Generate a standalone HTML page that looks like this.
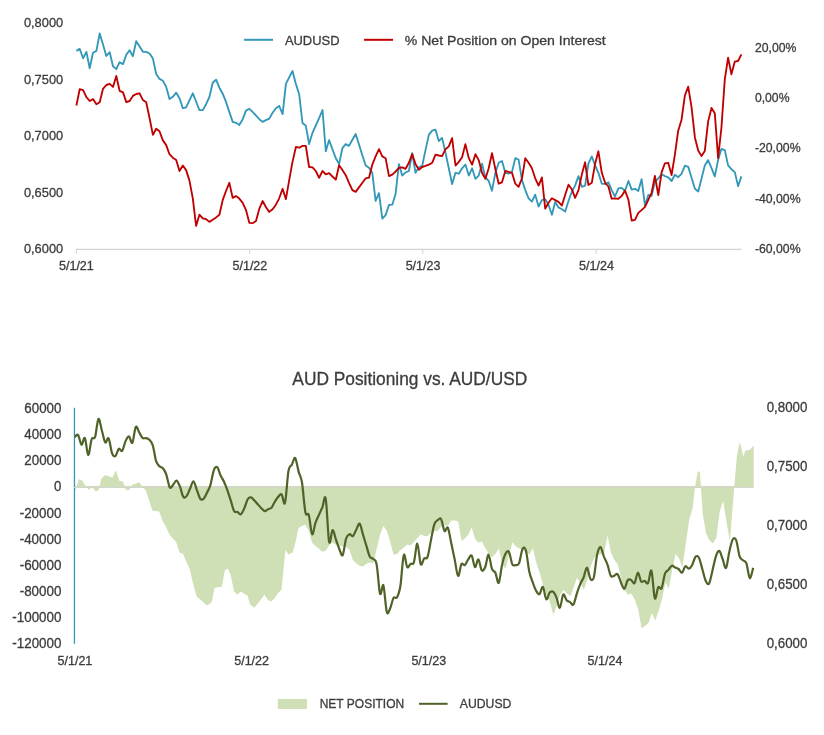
<!DOCTYPE html><html><head><meta charset="utf-8"><title>AUD Positioning</title>
<style>html,body{margin:0;padding:0;background:#fff}svg{display:block;will-change:transform}text{font-family:"Liberation Sans",sans-serif;fill:#3c3c3c;stroke:#3c3c3c;stroke-width:0.3px}</style></head><body>
<svg width="824" height="735" viewBox="0 0 824 735">
<rect width="824" height="735" fill="#fff"/>
<path d="M76.4,253.6 V249.4 H741.6" fill="none" stroke="#d3d3d3" stroke-width="1.1"/>
<path d="M249.6,249.4 V253.6" stroke="#d3d3d3" stroke-width="1.1" fill="none"/>
<path d="M422.8,249.4 V253.6" stroke="#d3d3d3" stroke-width="1.1" fill="none"/>
<path d="M596.2,249.4 V253.6" stroke="#d3d3d3" stroke-width="1.1" fill="none"/>
<path d="M76.4,50.9 L79.7,48.9 L83.1,58.2 L86.4,51.9 L89.7,68.2 L93.0,52.8 L96.4,50.9 L99.7,33.5 L103.0,44.4 L106.3,56.0 L109.7,52.2 L113.0,66.3 L116.3,69.1 L119.6,62.2 L123.0,64.1 L126.3,54.7 L129.6,50.2 L132.9,56.3 L136.2,41.2 L139.6,46.4 L142.9,51.8 L146.2,51.9 L149.6,53.5 L152.9,58.6 L156.2,74.0 L159.5,78.9 L162.9,80.8 L166.2,86.9 L169.5,99.1 L172.8,96.8 L176.2,92.7 L179.5,98.2 L182.8,108.2 L186.1,107.3 L189.4,100.4 L192.8,93.3 L196.1,101.5 L199.4,110.1 L202.8,110.1 L206.1,104.2 L209.4,97.0 L212.7,82.8 L216.1,79.7 L219.4,87.7 L222.7,93.7 L226.0,101.9 L229.3,111.9 L232.7,121.9 L236.0,122.8 L239.3,125.0 L242.7,119.2 L246.0,110.6 L249.3,108.8 L252.6,111.9 L256.0,115.5 L259.3,119.2 L262.6,121.9 L265.9,120.1 L269.2,118.6 L272.6,112.8 L275.9,108.2 L279.2,105.9 L282.6,114.1 L285.9,83.8 L289.2,77.4 L292.5,71.0 L295.9,84.0 L299.2,94.5 L302.5,123.0 L305.8,125.7 L309.1,144.1 L312.5,132.8 L315.8,125.5 L319.1,118.2 L322.5,110.0 L325.8,151.3 L329.1,140.1 L332.4,149.2 L335.8,158.2 L339.1,164.1 L342.4,148.2 L345.7,144.1 L349.0,145.9 L352.4,139.7 L355.7,134.0 L359.0,144.6 L362.4,155.5 L365.7,165.5 L369.0,167.7 L372.3,172.8 L375.6,201.0 L379.0,193.2 L382.3,218.7 L385.6,215.1 L389.0,205.0 L392.3,204.7 L395.6,193.8 L398.9,164.1 L402.2,175.6 L405.6,172.4 L408.9,171.0 L412.2,153.2 L415.5,172.8 L418.9,167.3 L422.2,165.9 L425.5,150.1 L428.9,134.6 L432.2,130.6 L435.5,129.7 L438.8,141.0 L442.1,137.9 L445.5,152.8 L448.8,168.3 L452.1,184.1 L455.5,172.8 L458.8,173.7 L462.1,168.3 L465.4,164.6 L468.8,175.6 L472.1,168.3 L475.4,178.8 L478.7,175.6 L482.0,163.7 L485.4,177.4 L488.7,181.0 L492.0,190.7 L495.4,172.8 L498.7,162.8 L502.0,161.0 L505.3,172.8 L508.6,173.7 L512.0,171.9 L515.3,158.2 L518.6,159.7 L522.0,180.1 L525.3,190.1 L528.6,198.3 L531.9,201.6 L535.2,194.7 L538.6,206.5 L541.9,200.1 L545.2,199.2 L548.5,204.7 L551.9,214.7 L555.2,201.9 L558.5,207.4 L561.9,209.2 L565.2,211.6 L568.5,201.0 L571.8,191.9 L575.1,185.6 L578.5,176.1 L581.8,186.8 L585.1,185.6 L588.4,163.7 L591.8,156.4 L595.1,165.5 L598.4,172.8 L601.8,183.7 L605.1,184.1 L608.4,182.3 L611.7,190.1 L615.0,196.5 L618.4,188.3 L621.7,187.9 L625.0,191.0 L628.4,181.0 L631.7,189.6 L635.0,188.8 L638.3,191.0 L641.6,179.2 L645.0,205.6 L648.3,195.0 L651.6,195.9 L654.9,181.9 L658.3,178.3 L661.6,174.3 L664.9,176.1 L668.2,177.4 L671.6,181.0 L674.9,174.8 L678.2,177.2 L681.5,173.8 L684.9,165.7 L688.2,166.8 L691.5,177.4 L694.9,188.8 L698.2,191.4 L701.5,178.8 L704.8,165.4 L708.1,160.1 L711.5,168.1 L714.8,176.4 L718.1,160.1 L721.4,149.0 L724.8,150.1 L728.1,165.4 L731.4,169.2 L734.8,172.1 L738.1,186.1 L741.4,176.4" fill="none" stroke="#3398b8" stroke-width="1.85" stroke-linejoin="round" stroke-linecap="butt"/>
<path d="M76.4,105.5 L79.7,89.2 L83.1,90.1 L86.4,97.2 L89.7,101.0 L93.0,99.1 L96.4,104.3 L99.7,102.3 L103.0,88.8 L106.3,85.0 L109.7,83.9 L113.0,86.9 L116.3,76.0 L119.6,90.8 L123.0,92.4 L126.3,102.1 L129.6,101.0 L132.9,95.9 L136.2,94.0 L139.6,93.3 L142.9,100.1 L146.2,102.3 L149.6,118.2 L152.9,134.9 L156.2,128.7 L159.5,131.3 L162.9,140.4 L166.2,145.1 L169.5,154.2 L172.8,157.7 L176.2,160.1 L179.5,171.0 L182.8,165.5 L186.1,170.1 L189.4,180.4 L192.8,198.3 L196.1,225.9 L199.4,214.7 L202.8,218.3 L206.1,219.2 L209.4,221.9 L212.7,219.8 L216.1,217.4 L219.4,214.7 L222.7,200.1 L226.0,191.0 L229.3,182.8 L232.7,197.9 L236.0,196.1 L239.3,198.6 L242.7,202.8 L246.0,210.1 L249.3,222.8 L252.6,223.2 L256.0,221.0 L259.3,208.8 L262.6,201.0 L265.9,207.0 L269.2,211.9 L272.6,209.2 L275.9,204.7 L279.2,198.3 L282.6,188.8 L285.9,199.2 L289.2,180.1 L292.5,161.9 L295.9,147.0 L299.2,147.7 L302.5,145.9 L305.8,145.9 L309.1,167.0 L312.5,167.3 L315.8,171.0 L319.1,177.9 L322.5,171.0 L325.8,174.3 L329.1,173.2 L332.4,176.5 L335.8,179.7 L339.1,165.2 L342.4,170.1 L345.7,175.2 L349.0,182.8 L352.4,190.1 L355.7,191.9 L359.0,187.4 L362.4,182.8 L365.7,178.3 L369.0,177.7 L372.3,164.6 L375.6,156.4 L379.0,149.2 L382.3,156.4 L385.6,158.2 L389.0,176.1 L392.3,174.6 L395.6,171.5 L398.9,167.9 L402.2,167.3 L405.6,168.8 L408.9,162.8 L412.2,154.1 L415.5,164.1 L418.9,169.7 L422.2,167.0 L425.5,165.9 L428.9,164.6 L432.2,162.8 L435.5,154.6 L438.8,155.5 L442.1,156.1 L445.5,149.2 L448.8,146.4 L452.1,138.2 L455.5,165.5 L458.8,161.9 L462.1,157.3 L465.4,144.1 L468.8,158.2 L472.1,164.6 L475.4,154.2 L478.7,160.1 L482.0,172.8 L485.4,178.8 L488.7,168.3 L492.0,153.2 L495.4,169.2 L498.7,183.7 L502.0,182.3 L505.3,171.0 L508.6,171.9 L512.0,172.8 L515.3,183.7 L518.6,186.8 L522.0,178.3 L525.3,158.2 L528.6,162.8 L531.9,168.3 L535.2,178.3 L538.6,185.6 L541.9,177.4 L545.2,208.7 L548.5,202.8 L551.9,198.3 L555.2,200.1 L558.5,201.9 L561.9,205.6 L565.2,194.7 L568.5,184.7 L571.8,189.2 L575.1,197.9 L578.5,190.1 L581.8,174.6 L585.1,162.3 L588.4,185.0 L591.8,182.8 L595.1,163.7 L598.4,151.3 L601.8,172.8 L605.1,182.8 L608.4,186.5 L611.7,198.7 L615.0,198.3 L618.4,198.8 L621.7,195.9 L625.0,190.5 L628.4,199.6 L631.7,220.7 L635.0,219.8 L638.3,212.9 L641.6,210.1 L645.0,206.9 L648.3,199.8 L651.6,192.8 L654.9,175.9 L658.3,195.0 L661.6,172.4 L664.9,163.3 L668.2,162.8 L671.6,175.0 L674.9,154.6 L678.2,130.7 L681.5,120.0 L684.9,95.4 L688.2,86.7 L691.5,106.8 L694.9,137.4 L698.2,150.5 L701.5,156.1 L704.8,151.0 L708.1,121.6 L711.5,108.0 L714.8,113.3 L718.1,158.1 L721.4,128.0 L724.8,79.4 L728.1,57.6 L731.4,74.3 L734.8,61.6 L738.1,61.0 L741.4,54.4" fill="none" stroke="#c00000" stroke-width="1.85" stroke-linejoin="round" stroke-linecap="butt"/>
<text x="23.9" y="27.1" font-size="13.2" text-anchor="start" textLength="39.3" lengthAdjust="spacingAndGlyphs">0,8000</text>
<text x="23.9" y="83.65" font-size="13.2" text-anchor="start" textLength="39.3" lengthAdjust="spacingAndGlyphs">0,7500</text>
<text x="23.9" y="140.2" font-size="13.2" text-anchor="start" textLength="39.3" lengthAdjust="spacingAndGlyphs">0,7000</text>
<text x="23.9" y="196.74999999999997" font-size="13.2" text-anchor="start" textLength="39.3" lengthAdjust="spacingAndGlyphs">0,6500</text>
<text x="23.9" y="253.29999999999998" font-size="13.2" text-anchor="start" textLength="39.3" lengthAdjust="spacingAndGlyphs">0,6000</text>
<text x="754.9" y="51.8" font-size="12.8" text-anchor="start" textLength="41.5" lengthAdjust="spacingAndGlyphs">20,00%</text>
<text x="754.9" y="102.1" font-size="12.8" text-anchor="start" textLength="34.6" lengthAdjust="spacingAndGlyphs">0,00%</text>
<text x="754.9" y="152.39999999999998" font-size="12.8" text-anchor="start" textLength="45.7" lengthAdjust="spacingAndGlyphs">-20,00%</text>
<text x="754.9" y="202.7" font-size="12.8" text-anchor="start" textLength="45.7" lengthAdjust="spacingAndGlyphs">-40,00%</text>
<text x="754.9" y="253.0" font-size="12.8" text-anchor="start" textLength="45.7" lengthAdjust="spacingAndGlyphs">-60,00%</text>
<text x="76.4" y="269.9" font-size="12.2" text-anchor="middle" textLength="34.9" lengthAdjust="spacingAndGlyphs">5/1/21</text>
<text x="249.9" y="269.9" font-size="12.2" text-anchor="middle" textLength="34.9" lengthAdjust="spacingAndGlyphs">5/1/22</text>
<text x="423.1" y="269.9" font-size="12.2" text-anchor="middle" textLength="34.9" lengthAdjust="spacingAndGlyphs">5/1/23</text>
<text x="596.5" y="269.9" font-size="12.2" text-anchor="middle" textLength="34.9" lengthAdjust="spacingAndGlyphs">5/1/24</text>
<path d="M244.1,39.8 H273" stroke="#3398b8" stroke-width="2" fill="none"/>
<text x="284.9" y="44.8" font-size="13.3" text-anchor="start" textLength="54.6" lengthAdjust="spacingAndGlyphs">AUDUSD</text>
<path d="M364.1,39.8 H393" stroke="#c00000" stroke-width="2" fill="none"/>
<text x="404.8" y="44.8" font-size="13.3" text-anchor="start" textLength="200.9" lengthAdjust="spacingAndGlyphs">% Net Position on Open Interest</text>
<text x="409.8" y="384.8" font-size="17.6" text-anchor="middle" textLength="234.9" lengthAdjust="spacingAndGlyphs">AUD Positioning vs. AUD/USD</text>
<path d="M74.3,486.0 L74.4,493.1 L78.9,479.3 L82.1,480.4 L85.5,485.8 L88.9,490.0 L92.1,486.5 L95.7,491.6 L98.9,489.7 L101.3,478.5 L105.4,475.1 L108.8,476.4 L112.5,477.5 L115.8,470.3 L119.5,480.9 L122.9,481.4 L125.8,489.7 L128.7,490.2 L132.6,484.5 L136.0,483.4 L139.4,482.2 L142.6,487.2 L145.7,490.2 L149.1,500.3 L152.4,510.7 L155.8,511.0 L159.2,511.4 L162.6,521.1 L166.0,526.8 L169.4,534.5 L172.8,538.4 L176.2,541.9 L179.6,552.8 L183.0,553.7 L186.4,561.9 L189.8,569.2 L193.2,584.1 L196.6,596.5 L200.0,599.2 L203.4,602.3 L206.8,605.6 L211.6,602.5 L214.7,587.8 L218.0,587.3 L221.8,586.7 L225.0,570.0 L228.0,568.7 L230.6,574.7 L234.0,591.4 L237.4,594.7 L240.8,591.4 L244.2,593.8 L247.5,595.4 L250.1,604.5 L254.3,607.8 L257.7,603.8 L261.1,599.2 L264.5,594.7 L267.9,600.1 L271.3,601.6 L274.7,598.3 L278.1,592.9 L281.5,589.8 L285.4,550.0 L288.5,554.4 L292.5,552.7 L295.1,544.1 L298.5,528.0 L301.9,526.0 L305.3,524.7 L308.7,530.7 L312.1,542.7 L315.5,546.1 L318.9,548.7 L322.3,551.7 L325.7,550.7 L329.1,545.4 L332.5,542.5 L335.9,544.7 L339.3,546.0 L342.7,546.5 L346.1,546.7 L349.5,550.1 L352.9,560.1 L356.3,563.4 L359.6,565.7 L363.0,566.4 L366.4,563.7 L369.8,562.5 L373.2,563.4 L376.6,549.4 L380.0,534.7 L383.4,526.0 L386.8,530.4 L390.2,542.1 L393.6,554.7 L397.0,554.0 L400.4,550.1 L403.8,547.4 L407.2,544.6 L410.6,545.5 L414.0,541.9 L417.4,538.3 L420.8,534.2 L424.2,535.9 L427.6,535.9 L431.0,532.8 L434.4,531.3 L437.8,530.9 L441.2,526.4 L444.6,525.5 L448.0,525.5 L451.4,520.6 L454.8,520.4 L458.2,521.5 L461.6,541.0 L465.0,538.2 L468.4,534.6 L471.7,527.3 L475.1,539.1 L478.5,542.8 L481.9,541.5 L485.3,548.2 L488.7,553.2 L492.1,557.3 L495.5,553.7 L498.9,548.6 L502.3,564.6 L505.7,568.8 L509.1,553.7 L512.5,542.2 L515.9,546.8 L519.3,548.2 L522.7,550.0 L526.1,552.8 L529.5,554.6 L532.9,548.2 L536.3,562.8 L539.7,572.8 L543.1,585.6 L546.5,594.7 L549.9,601.9 L553.3,615.1 L556.7,605.6 L560.1,594.7 L563.5,590.1 L566.9,593.2 L570.3,596.5 L573.7,587.4 L577.1,577.4 L580.5,583.7 L583.9,589.6 L587.2,580.1 L590.6,566.4 L594.0,558.3 L597.4,554.6 L600.8,554.6 L604.2,552.8 L607.6,535.5 L611.0,552.8 L614.4,560.1 L617.8,564.6 L621.2,578.3 L624.6,590.1 L628.0,594.7 L631.4,593.8 L634.8,599.8 L638.2,609.2 L641.6,628.3 L645.0,626.0 L648.4,622.9 L651.8,612.9 L655.2,620.5 L658.6,611.0 L662.0,599.2 L665.4,582.8 L668.8,588.7 L672.2,570.1 L675.6,553.7 L679.0,558.3 L682.4,567.4 L685.8,543.7 L689.2,519.4 L692.6,508.2 L695.1,486.7 L697.9,471.4 L699.9,471.7 L702.7,514.0 L706.1,533.5 L709.5,540.3 L712.9,543.5 L716.3,538.0 L719.7,511.4 L723.1,500.8 L726.5,522.0 L729.9,541.0 L733.3,498.5 L736.9,456.0 L739.7,442.0 L743.5,456.7 L745.2,450.7 L749.7,450.0 L753.7,445.4 L753.7,486.0 Z" fill="#cfdfb6" stroke="none"/>
<rect x="74.3" y="485.95" width="679.4" height="1.1" fill="#cfdfb6"/>
<path d="M74.45,407.8 V643.8" stroke="#3398b8" stroke-width="1.3" fill="none"/>
<path d="M73.8,487.5 H753.7" stroke="#d4d4d0" stroke-width="1.2" fill="none"/>
<path d="M74.7,437.0 C75.3,436.7 77.0,433.8 78.1,435.0 C79.2,436.3 80.4,444.2 81.5,444.7 C82.6,445.2 83.7,436.4 84.9,438.1 C86.0,439.9 87.1,455.0 88.3,455.1 C89.4,455.3 90.5,442.1 91.7,439.1 C92.8,436.0 93.9,440.4 95.1,437.0 C96.2,433.7 97.3,420.1 98.4,418.9 C99.6,417.8 100.7,426.4 101.8,430.3 C103.0,434.2 104.1,441.1 105.2,442.4 C106.4,443.8 107.5,436.6 108.6,438.4 C109.8,440.2 110.9,450.2 112.0,453.1 C113.1,456.1 114.3,456.8 115.4,456.1 C116.5,455.4 117.7,449.7 118.8,448.8 C119.9,448.0 121.1,452.2 122.2,450.9 C123.3,449.6 124.5,443.5 125.6,441.1 C126.7,438.7 127.8,436.1 129.0,436.4 C130.1,436.6 131.2,444.2 132.4,442.7 C133.5,441.1 134.6,428.7 135.8,427.0 C136.9,425.3 138.0,430.5 139.2,432.4 C140.3,434.2 141.4,437.0 142.6,438.0 C143.7,438.9 144.8,437.8 145.9,438.1 C147.1,438.4 148.2,438.6 149.3,439.7 C150.5,440.9 151.6,441.5 152.7,445.1 C153.9,448.7 155.0,457.7 156.1,461.2 C157.3,464.7 158.4,465.1 159.5,466.3 C160.6,467.5 161.8,466.9 162.9,468.3 C164.0,469.7 165.2,471.4 166.3,474.6 C167.4,477.8 168.6,485.6 169.7,487.3 C170.8,489.1 172.0,486.0 173.1,484.9 C174.2,483.8 175.3,480.4 176.5,480.6 C177.6,480.9 178.7,483.7 179.9,486.4 C181.0,489.1 182.1,495.3 183.3,496.8 C184.4,498.4 185.5,497.3 186.7,495.9 C187.8,494.5 188.9,491.1 190.0,488.7 C191.2,486.3 192.3,481.1 193.4,481.3 C194.6,481.5 195.7,486.9 196.8,489.8 C198.0,492.7 199.1,497.3 200.2,498.7 C201.4,500.2 202.5,499.8 203.6,498.7 C204.7,497.7 205.9,495.0 207.0,492.7 C208.1,490.4 209.3,488.8 210.4,485.1 C211.5,481.3 212.7,473.3 213.8,470.3 C214.9,467.3 216.1,466.2 217.2,467.1 C218.3,467.9 219.4,473.0 220.6,475.4 C221.7,477.8 222.8,479.2 224.0,481.7 C225.1,484.1 226.2,487.0 227.4,490.2 C228.5,493.4 229.6,497.2 230.8,500.6 C231.9,504.1 233.0,509.2 234.1,511.1 C235.3,513.0 236.4,511.5 237.5,512.0 C238.7,512.6 239.8,514.9 240.9,514.3 C242.1,513.7 243.2,510.7 244.3,508.2 C245.5,505.7 246.6,501.1 247.7,499.3 C248.8,497.5 250.0,497.2 251.1,497.4 C252.2,497.6 253.4,499.5 254.5,500.6 C255.6,501.8 256.8,503.2 257.9,504.4 C259.0,505.7 260.2,507.1 261.3,508.2 C262.4,509.3 263.5,510.9 264.7,511.1 C265.8,511.2 266.9,509.8 268.1,509.2 C269.2,508.6 270.3,508.9 271.5,507.7 C272.6,506.4 273.7,503.4 274.9,501.6 C276.0,499.8 277.1,498.1 278.2,496.8 C279.4,495.6 280.5,493.4 281.6,494.4 C282.8,495.4 283.9,506.8 285.0,502.9 C286.2,499.1 287.3,477.7 288.4,471.4 C289.6,465.0 290.7,466.9 291.8,464.7 C293.0,462.5 294.1,456.8 295.2,458.0 C296.3,459.2 297.5,467.5 298.6,471.6 C299.7,475.7 300.9,475.7 302.0,482.5 C303.1,489.3 304.3,506.8 305.4,512.3 C306.5,517.7 307.7,511.4 308.8,515.1 C309.9,518.7 311.0,533.0 312.2,534.2 C313.3,535.4 314.4,525.6 315.6,522.4 C316.7,519.2 317.8,517.4 319.0,514.8 C320.1,512.3 321.2,509.9 322.4,507.2 C323.5,504.5 324.6,492.9 325.7,498.7 C326.9,504.5 328.0,536.6 329.1,541.8 C330.3,547.0 331.4,530.4 332.5,530.0 C333.7,529.6 334.8,536.3 335.9,539.5 C337.1,542.7 338.2,546.4 339.3,549.0 C340.4,551.6 341.6,556.8 342.7,555.1 C343.8,553.3 345.0,542.0 346.1,538.5 C347.2,535.1 348.4,534.6 349.5,534.2 C350.6,533.8 351.8,536.8 352.9,536.1 C354.0,535.3 355.1,531.7 356.3,529.6 C357.4,527.6 358.5,522.9 359.7,523.7 C360.8,524.6 361.9,531.0 363.1,534.8 C364.2,538.5 365.3,542.5 366.5,546.1 C367.6,549.8 368.7,554.5 369.8,556.6 C371.0,558.7 372.1,557.6 373.2,558.9 C374.4,560.1 375.5,558.4 376.6,564.2 C377.8,570.0 378.9,590.0 380.0,593.6 C381.2,597.1 382.3,582.4 383.4,585.4 C384.5,588.5 385.7,608.2 386.8,612.0 C387.9,615.8 389.1,610.6 390.2,608.2 C391.3,605.8 392.5,599.6 393.6,597.8 C394.7,596.0 395.9,599.3 397.0,597.4 C398.1,595.4 399.2,593.0 400.4,586.0 C401.5,578.9 402.6,558.2 403.8,555.1 C404.9,551.9 406.0,565.6 407.2,567.0 C408.3,568.5 409.4,564.6 410.6,563.8 C411.7,563.0 412.8,565.6 413.9,562.3 C415.1,558.9 416.2,543.4 417.3,543.7 C418.5,544.0 419.6,561.7 420.7,564.2 C421.9,566.6 423.0,559.7 424.1,558.5 C425.3,557.3 426.4,560.0 427.5,557.0 C428.7,554.0 429.8,545.9 430.9,540.4 C432.0,535.0 433.2,527.7 434.3,524.3 C435.4,520.9 436.6,521.0 437.7,520.1 C438.8,519.3 440.0,517.4 441.1,519.2 C442.2,521.0 443.4,529.5 444.5,531.0 C445.6,532.4 446.7,525.7 447.9,527.7 C449.0,529.8 450.1,538.0 451.3,543.3 C452.4,548.6 453.5,554.0 454.7,559.4 C455.8,564.9 456.9,575.1 458.1,575.9 C459.2,576.7 460.3,566.0 461.4,564.2 C462.6,562.4 463.7,565.9 464.8,565.1 C466.0,564.3 467.1,561.0 468.2,559.4 C469.4,557.8 470.5,554.4 471.6,555.6 C472.8,556.9 473.9,566.4 475.0,567.0 C476.1,567.7 477.3,558.9 478.4,559.4 C479.5,560.0 480.7,569.2 481.8,570.4 C482.9,571.7 484.1,569.6 485.2,567.0 C486.3,564.4 487.5,554.4 488.6,554.7 C489.7,555.0 490.8,565.9 492.0,568.9 C493.1,571.9 494.2,570.4 495.4,572.7 C496.5,575.0 497.6,584.2 498.8,582.8 C499.9,581.3 501.0,569.0 502.2,564.2 C503.3,559.3 504.4,555.8 505.5,553.7 C506.7,551.7 507.8,550.1 508.9,551.8 C510.1,553.6 511.2,562.0 512.3,564.2 C513.5,566.4 514.6,565.3 515.7,565.1 C516.9,565.0 518.0,565.9 519.1,563.2 C520.2,560.5 521.4,551.1 522.5,549.0 C523.6,546.9 524.8,546.7 525.9,550.5 C527.0,554.3 528.2,566.5 529.3,571.8 C530.4,577.0 531.6,579.0 532.7,582.2 C533.8,585.4 534.9,588.7 536.1,590.7 C537.2,592.7 538.3,594.8 539.5,594.2 C540.6,593.5 541.7,586.1 542.9,586.9 C544.0,587.8 545.1,598.3 546.3,599.3 C547.4,600.2 548.5,593.9 549.6,592.6 C550.8,591.4 551.9,590.9 553.0,591.7 C554.2,592.5 555.3,594.7 556.4,597.4 C557.6,600.1 558.7,608.3 559.8,607.8 C561.0,607.3 562.1,595.8 563.2,594.5 C564.4,593.3 565.5,599.0 566.6,600.2 C567.7,601.5 568.9,601.4 570.0,602.1 C571.1,602.8 572.3,606.0 573.4,604.6 C574.5,603.2 575.7,597.0 576.8,593.6 C577.9,590.2 579.1,586.8 580.2,584.1 C581.3,581.4 582.4,580.2 583.6,577.5 C584.7,574.7 585.8,567.4 587.0,567.6 C588.1,567.8 589.2,577.1 590.4,578.8 C591.5,580.4 592.6,581.5 593.8,577.5 C594.9,573.4 596.0,559.7 597.1,554.7 C598.3,549.6 599.4,546.8 600.5,547.1 C601.7,547.4 602.8,553.7 603.9,556.6 C605.1,559.4 606.2,561.0 607.3,564.2 C608.5,567.3 609.6,573.6 610.7,575.6 C611.8,577.5 613.0,576.2 614.1,575.9 C615.2,575.7 616.4,573.0 617.5,574.0 C618.6,575.1 619.8,579.7 620.9,582.2 C622.0,584.7 623.2,589.2 624.3,588.8 C625.4,588.5 626.5,581.8 627.7,580.3 C628.8,578.8 629.9,579.4 631.1,579.9 C632.2,580.4 633.3,584.3 634.5,583.1 C635.6,581.9 636.7,573.0 637.9,572.7 C639.0,572.5 640.1,580.3 641.2,581.6 C642.4,583.0 643.5,580.6 644.6,580.9 C645.8,581.1 646.9,584.8 648.0,583.1 C649.2,581.5 650.3,568.3 651.4,570.8 C652.6,573.3 653.7,595.6 654.8,598.3 C655.9,601.1 657.1,589.0 658.2,587.3 C659.3,585.6 660.5,590.5 661.6,588.3 C662.7,586.0 663.9,576.7 665.0,573.7 C666.1,570.6 667.3,571.2 668.4,569.9 C669.5,568.5 670.6,566.1 671.8,565.7 C672.9,565.3 674.0,567.0 675.2,567.6 C676.3,568.1 677.4,568.1 678.6,569.0 C679.7,569.8 680.8,573.2 682.0,572.7 C683.1,572.3 684.2,566.9 685.4,566.2 C686.5,565.5 687.6,568.9 688.7,568.7 C689.9,568.5 691.0,567.2 692.1,565.2 C693.3,563.2 694.4,558.0 695.5,556.7 C696.7,555.5 697.8,555.8 698.9,557.8 C700.1,559.9 701.2,565.2 702.3,569.0 C703.4,572.8 704.6,578.4 705.7,580.8 C706.8,583.2 708.0,585.3 709.1,583.6 C710.2,581.8 711.4,574.9 712.5,570.4 C713.6,565.8 714.8,559.7 715.9,556.4 C717.0,553.2 718.1,550.4 719.3,550.9 C720.4,551.3 721.5,556.4 722.7,559.2 C723.8,562.1 724.9,569.3 726.1,567.9 C727.2,566.5 728.3,555.6 729.5,550.9 C730.6,546.1 731.7,541.1 732.8,539.3 C734.0,537.6 735.1,537.6 736.2,540.4 C737.4,543.3 738.5,553.1 739.6,556.4 C740.8,559.8 741.9,559.2 743.0,560.3 C744.2,561.5 745.3,560.5 746.4,563.4 C747.5,566.4 748.7,577.3 749.8,578.0 C750.9,578.8 752.6,569.6 753.2,567.9" fill="none" stroke="#4f6228" stroke-width="2.2" stroke-linejoin="round" stroke-linecap="butt"/>
<text x="24.299999999999997" y="413.1" font-size="14" text-anchor="start" textLength="37.2" lengthAdjust="spacingAndGlyphs">60000</text>
<text x="24.299999999999997" y="439.23" font-size="14" text-anchor="start" textLength="37.2" lengthAdjust="spacingAndGlyphs">40000</text>
<text x="24.299999999999997" y="465.36" font-size="14" text-anchor="start" textLength="37.2" lengthAdjust="spacingAndGlyphs">20000</text>
<text x="54.1" y="491.49" font-size="14" text-anchor="start" textLength="7.4" lengthAdjust="spacingAndGlyphs">0</text>
<text x="19.700000000000003" y="517.62" font-size="14" text-anchor="start" textLength="41.8" lengthAdjust="spacingAndGlyphs">-20000</text>
<text x="19.700000000000003" y="543.75" font-size="14" text-anchor="start" textLength="41.8" lengthAdjust="spacingAndGlyphs">-40000</text>
<text x="19.700000000000003" y="569.88" font-size="14" text-anchor="start" textLength="41.8" lengthAdjust="spacingAndGlyphs">-60000</text>
<text x="19.700000000000003" y="596.01" font-size="14" text-anchor="start" textLength="41.8" lengthAdjust="spacingAndGlyphs">-80000</text>
<text x="12.299999999999997" y="622.14" font-size="14" text-anchor="start" textLength="49.2" lengthAdjust="spacingAndGlyphs">-100000</text>
<text x="12.299999999999997" y="648.27" font-size="14" text-anchor="start" textLength="49.2" lengthAdjust="spacingAndGlyphs">-120000</text>
<text x="766.7" y="412.2" font-size="14.2" text-anchor="start" textLength="40.7" lengthAdjust="spacingAndGlyphs">0,8000</text>
<text x="766.7" y="471.09999999999997" font-size="14.2" text-anchor="start" textLength="40.7" lengthAdjust="spacingAndGlyphs">0,7500</text>
<text x="766.7" y="530.0" font-size="14.2" text-anchor="start" textLength="40.7" lengthAdjust="spacingAndGlyphs">0,7000</text>
<text x="766.7" y="588.9" font-size="14.2" text-anchor="start" textLength="40.7" lengthAdjust="spacingAndGlyphs">0,6500</text>
<text x="766.7" y="647.8" font-size="14.2" text-anchor="start" textLength="40.7" lengthAdjust="spacingAndGlyphs">0,6000</text>
<text x="74.9" y="664.8" font-size="12.1" text-anchor="middle" textLength="34.8" lengthAdjust="spacingAndGlyphs">5/1/21</text>
<text x="251.6" y="664.8" font-size="12.1" text-anchor="middle" textLength="34.8" lengthAdjust="spacingAndGlyphs">5/1/22</text>
<text x="428.8" y="664.8" font-size="12.1" text-anchor="middle" textLength="34.8" lengthAdjust="spacingAndGlyphs">5/1/23</text>
<text x="605" y="664.8" font-size="12.1" text-anchor="middle" textLength="34.8" lengthAdjust="spacingAndGlyphs">5/1/24</text>
<rect x="277.8" y="698.9" width="29.2" height="10" fill="#cfdfb6"/>
<text x="319.7" y="707.8" font-size="12.9" text-anchor="start" textLength="84.5" lengthAdjust="spacingAndGlyphs">NET POSITION</text>
<path d="M419,703.8 H447.6" stroke="#4f6228" stroke-width="2" fill="none"/>
<text x="459.8" y="707.8" font-size="12.9" text-anchor="start" textLength="51.6" lengthAdjust="spacingAndGlyphs">AUDUSD</text>
</svg></body></html>
